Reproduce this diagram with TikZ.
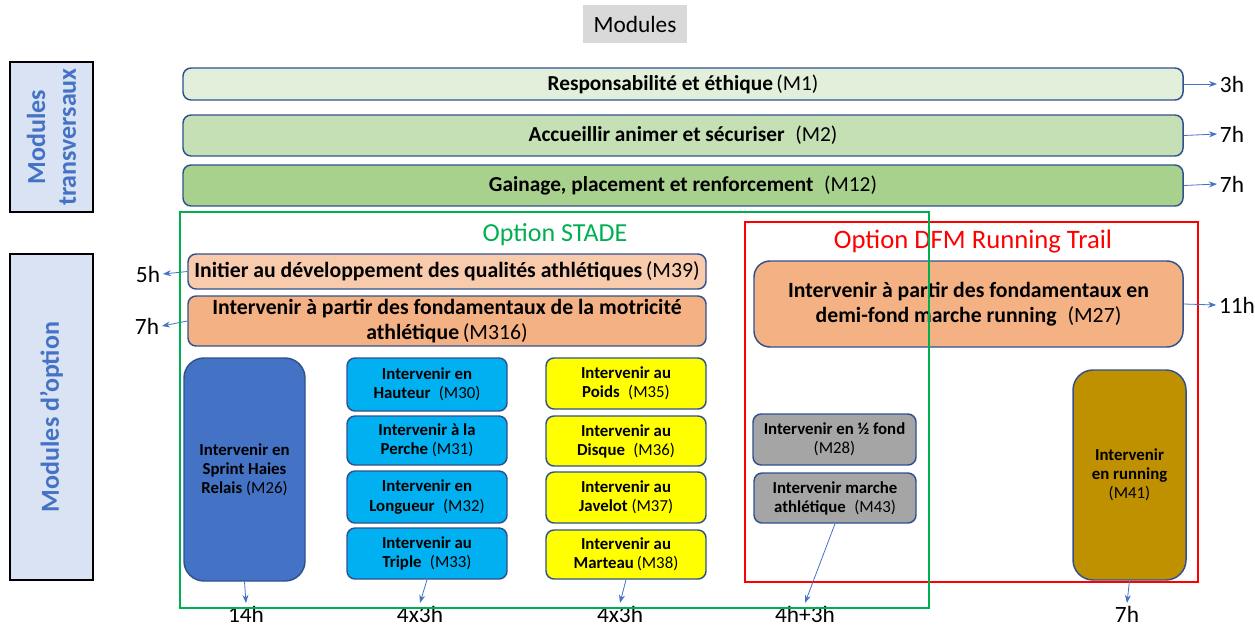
\documentclass[tikz,border=0pt]{standalone}
\usepackage{fontspec}
\setmainfont{Carlito}
\usetikzlibrary{fit,arrows.meta}
\definecolor{bordc}{HTML}{2F528F}
\definecolor{arrc}{HTML}{4472C4}
\definecolor{titlec}{HTML}{4472C4}
\definecolor{sidefill}{HTML}{DAE3F3}
\definecolor{gA}{HTML}{E2EFDA}
\definecolor{gB}{HTML}{C5E0B4}
\definecolor{gC}{HTML}{A9D18E}
\definecolor{oA}{HTML}{F8CBAD}
\definecolor{oB}{HTML}{F4B183}
\definecolor{bDark}{HTML}{4472C4}
\definecolor{bLight}{HTML}{00B0F0}
\definecolor{yel}{HTML}{FFFF00}
\definecolor{gry}{HTML}{A5A5A5}
\definecolor{gold}{HTML}{BF9000}
\definecolor{stadeg}{HTML}{00B050}
\definecolor{greyhead}{HTML}{D9D9D9}
\begin{document}
\begin{tikzpicture}[x=0.75pt,y=-0.75pt,
  box/.style={draw=bordc, line width=1.1pt, rounded corners=6pt, inner sep=0pt, align=center, text=black},
  bartext/.style={align=center, font=\fontsize{16}{18}\selectfont},
  midtext/.style={align=center, font=\fontsize{16.3}{19}\selectfont},
  smalltext/.style={align=center, font=\fontsize{12.6}{14.3}\selectfont},
  side/.style={draw=black, line width=1.5pt, fill=sidefill, inner sep=0pt},
  sidetext/.style={rotate=90, text=titlec, align=center, font=\fontsize{19.5}{23}\selectfont\bfseries},
  hours/.style={font=\fontsize{17.5}{20}\selectfont, inner sep=2pt},
  arr/.style={draw=arrc, line width=0.6pt, -{Stealth[length=6pt,width=4.5pt]}},
  optframe/.style={line width=1.5pt}
]
\useasboundingbox (0,0) rectangle (1255,625);

% header
\node[fill=greyhead, minimum width=78pt, minimum height=28.5pt, inner sep=0pt, font=\fontsize{17.5}{20}\selectfont] (hdr) at (635,24) {Modules};

% side boxes
\node[side, fit={(10,62) (93,212)}] (sideA) {};
\node[sidetext] (sideAt) at (sideA.center) {Modules\\transversaux};
\node[side, fit={(10,254) (93,580)}] (sideB) {};
\node[sidetext] (sideBt) at (sideB.center) {Modules d’option};

% transversal bars
\node[box, fill=gA, fit={(183,68) (1183,100)}] (m1) {};
\node[bartext] at (m1.center) {\textbf{Responsabilité et éthique}\,(M1)};
\node[box, fill=gB, fit={(183,115) (1183,156)}] (m2) {};
\node[bartext] at (m2.center) {\textbf{Accueillir animer et sécuriser}\enspace(M2)};
\node[box, fill=gC, fit={(183,165) (1183,206)}] (m12) {};
\node[bartext] at (m12.center) {\textbf{Gainage, placement et renforcement}\enspace(M12)};

\node[hours] (h1) at (1232,84) {3h};
\node[hours] (h2) at (1232,134) {7h};
\node[hours] (h3) at (1232,184) {7h};
\draw[arr] (m1.east) -- (h1.west);
\draw[arr] (m2.east) -- (h2.west);
\draw[arr] (m12.east) -- (h3.west);

% red frame
\draw[red, optframe] (745,222) rectangle (1198,582);
\node[text=red, font=\fontsize{20}{24}\selectfont] (dfm) at (973,242) {Option DFM Running Trail};

% STADE top boxes
\node[text=stadeg, font=\fontsize{19.5}{24}\selectfont] (stade) at (555,235) {Option STADE};
\node[box, fill=oA, fit={(188,254) (706,289)}] (m39) {};
\node[midtext] at (m39.center) {\textbf{Initier au développement des qualités athlétiques}\,(M39)};
\node[box, fill=oB, fit={(188,296) (706,346)}] (m316) {};
\node[midtext] at (m316.center) {\textbf{Intervenir à partir des fondamentaux de la motricité}\\\textbf{athlétique}\,(M316)};
\node[hours] (h5) at (148,274) {5h};
\node[hours] (h7) at (147,326) {7h};
\draw[arr] (m39.west) -- (h5.east);
\draw[arr] (m316.west) -- (h7.east);

% M26
\node[box, fill=bDark, rounded corners=15pt, fit={(184,358) (305,581)}] (m26) {};
\node[smalltext] at (m26.center) {\textbf{Intervenir en}\\\textbf{Sprint Haies}\\\textbf{Relais} (M26)};

% blue column
\node[box, fill=bLight, fit={(347,358) (507,411)}] (m30) {};
\node[smalltext] at (m30.center) {\textbf{Intervenir en}\\\textbf{Hauteur}\enspace(M30)};
\node[box, fill=bLight, fit={(347,416) (507,465)}] (m31) {};
\node[smalltext] at (m31.center) {\textbf{Intervenir à la}\\\textbf{Perche} (M31)};
\node[box, fill=bLight, fit={(347,471) (507,523)}] (m32) {};
\node[smalltext] at (m32.center) {\textbf{Intervenir en}\\\textbf{Longueur}\enspace(M32)};
\node[box, fill=bLight, fit={(347,528) (507,579)}] (m33) {};
\node[smalltext] at (m33.center) {\textbf{Intervenir au}\\\textbf{Triple}\enspace(M33)};

% yellow column
\node[box, fill=yel, fit={(546,358) (706,409)}] (m35) {};
\node[smalltext] at (m35.center) {\textbf{Intervenir au}\\\textbf{Poids}\enspace(M35)};
\node[box, fill=yel, fit={(546,416) (706,466)}] (m36) {};
\node[smalltext] at (m36.center) {\textbf{Intervenir au}\\\textbf{Disque}\enspace(M36)};
\node[box, fill=yel, fit={(546,472) (706,523)}] (m37) {};
\node[smalltext] at (m37.center) {\textbf{Intervenir au}\\\textbf{Javelot} (M37)};
\node[box, fill=yel, fit={(546,530) (706,579)}] (m38) {};
\node[smalltext] at (m38.center) {\textbf{Intervenir au}\\\textbf{Marteau}\,(M38)};

% DFM boxes
\node[box, fill=oB, rounded corners=12pt, fit={(754,261) (1183,347)}] (m27) {};
\node[midtext] at (m27.center) {\textbf{Intervenir à partir des fondamentaux en}\\\textbf{demi-fond marche running}\enspace(M27)};
\node[hours] (h11) at (1237,305) {11h};
\draw[arr] (m27.east) -- (h11.west);

\node[box, fill=gry, fit={(753,414) (916,465)}] (m28) {};
\node[smalltext] at (m28.center) {\textbf{Intervenir en ½ fond}\\(M28)};
\node[box, fill=gry, fit={(754,473) (916,523)}] (m43) {};
\node[smalltext] at (m43.center) {\textbf{Intervenir marche}\\\textbf{athlétique}\enspace(M43)};

\node[box, fill=gold, rounded corners=15pt, fit={(1073,370) (1186,580)}] (m41) {};
\node[smalltext] at (m41.center) {\textbf{Intervenir}\\\textbf{en running}\\(M41)};

% bottom hour labels
\node[hours] (b1) at (246,614) {14h};
\node[hours] (b2) at (420,614) {4x3h};
\node[hours] (b3) at (620,614) {4x3h};
\node[hours] (b4) at (805,614) {4h+3h};
\node[hours] (b5) at (1127,614) {7h};
\draw[arr] (m26.south) -- (b1.north);
\draw[arr] (m33.south) -- (b2.north);
\draw[arr] (m38.south) -- (b3.north);
\draw[arr] (m43.south) -- (b4.north);
\draw[arr] (m41.south) -- (b5.north);

% green frame on top
\draw[stadeg, optframe] (180,212) rectangle (929,608);
\end{tikzpicture}
\end{document}
